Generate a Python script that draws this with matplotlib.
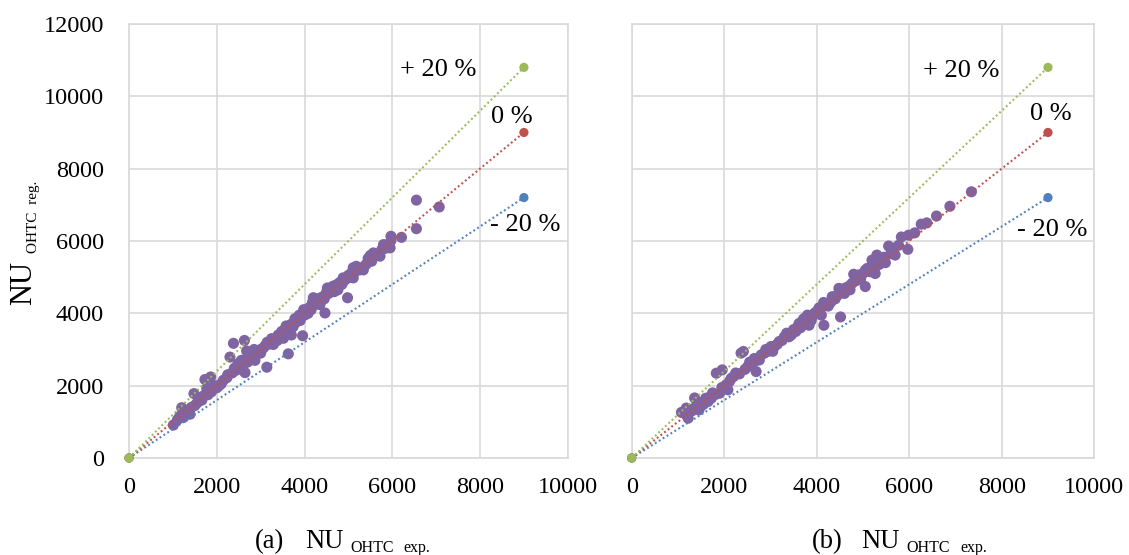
import matplotlib
matplotlib.use("Agg")
import matplotlib.pyplot as plt

plt.rcParams["font.family"] = ["Liberation Serif", "DejaVu Serif"]

# measured vs. regressed NU, panel (a)
left_x = [1010, 1100, 1150, 1200, 1240, 1280, 1300, 1350, 1390, 1420, 1480, 1500, 1550, 1600,
          1620, 1660, 1700, 1730, 1770, 1800, 1830, 1860, 1880, 1900, 1950, 2000, 2050, 2100,
          2230, 2300, 2380, 2400, 2350, 2450, 2500, 2550, 2605, 2630, 2643, 2680, 2700, 2750,
          2795, 2820, 2870, 2900, 2950, 3000, 3060, 3100, 3140, 3200,
          3290, 3350, 3400, 3450, 3520, 3550, 3600, 3630, 3650, 3700, 3700, 3740, 3800, 3850,
          3900, 3935, 3956, 4000, 4050, 4100, 4150, 4200,
          4250, 4300, 4350, 4400, 4450, 4466, 4500, 4550, 4600, 4620, 4680, 4730, 4730, 4800,
          4850, 4880, 4950, 4980, 5000, 5050, 5110, 5110, 5150, 5200, 5250, 5300, 5340, 5400, 5450,
          5530, 5570, 5650, 5720, 5760, 5850, 5950, 5970, 5970, 6210, 6550, 6550, 7070,
          2150, 2250, 2480, 2560, 2720, 2850, 3000, 3150, 3250, 3380, 3480, 3580, 3680, 3780,
          3880, 3980, 4080, 4180, 4280, 4380, 4520, 4650, 4760, 4900, 5060, 5180, 5500, 5800]
left_y = [910, 1050, 1150, 1390, 1120, 1250, 1300, 1280, 1210, 1400, 1780, 1450, 1520, 1580,
          1670, 1600, 1720, 2170, 1920, 1750, 1850, 2240, 1830, 1950, 2000, 1940, 2000, 2050,
          2220, 2790, 3170, 2480, 2350, 2430, 2550, 2500, 2590, 3250, 2360, 2960, 2650, 2750,
          2910, 2800, 2700, 2950, 2900, 3000, 3040, 3100, 2510, 3150,
          3140, 3300, 3400, 3350, 3310, 3550, 3500, 2880, 3650, 3400, 3700, 3630, 3750, 3850,
          3800, 3950, 3380, 3950, 4060, 4150, 4100, 4430,
          4250, 4300, 4240, 4450, 4400, 4010, 4580, 4550, 4650, 4620, 4600, 4700, 4790, 4850,
          4800, 4980, 4950, 4430, 5050, 5000, 4980, 5260, 5150, 5250, 5200, 5260, 5200, 5350, 5520,
          5440, 5670, 5600, 5580, 5760, 5800, 5810, 6010, 6130, 6100, 6340, 7130, 6940,
          2150, 2300, 2600, 2700, 2850, 3000, 2900, 3200, 3300, 3250, 3500, 3650, 3600, 3850,
          3950, 4100, 4000, 4300, 4400, 4350, 4700, 4750, 4650, 4900, 5100, 5300, 5600, 5900]

# panel (b)
right_x = [1075, 1180, 1220, 1300, 1360, 1400, 1455, 1500, 1550, 1600, 1650, 1700, 1750, 1800,
           1830, 1900, 1957, 1950, 2040, 2080, 2115, 2200, 2330, 2365, 2415, 2450, 2510, 2600,
           2690, 2700, 2760, 2800, 2870, 2950, 3010, 3050, 3100, 3190, 3250, 3300, 3400, 3475,
           3500, 3550, 3620, 3650, 3700, 3750, 3800, 3835, 3900, 3950, 4000, 4085, 4100, 4155,
           4200, 4250, 4335, 4335, 4400, 4480, 4515, 4550, 4600, 4650, 4700, 4765, 4800, 4850,
           4910, 4950, 5050, 5050, 5090, 5150, 5195, 5265, 5300, 5350, 5400, 5485, 5555, 5600,
           5695, 5770, 5830, 5970, 5985, 6120, 6260, 6380, 6590, 6880, 7345,
           1250, 1420, 1720, 2150, 2250, 2550, 2650, 2900, 3150, 3350, 3450, 3600, 3720, 3880,
           4050, 4150, 4300, 4450, 4620, 4720, 4880, 5000, 5200, 5450, 5650]
right_y = [1260, 1380, 1100, 1300, 1660, 1450, 1330, 1500, 1480, 1650, 1560, 1700, 1800, 1750,
           2345, 1790, 2436, 1950, 2020, 1885, 2115, 2250, 2325, 2900, 2945, 2450, 2530, 2600,
           2390, 2700, 2710, 2850, 2900, 2950, 3080, 2950, 3100, 3220, 3250, 3350, 3350, 3450,
           3550, 3500, 3720, 3600, 3800, 3700, 3950, 3670, 3900, 4000, 4050, 4130, 3950, 3670,
           4250, 4200, 4370, 4460, 4400, 4690, 3900, 4640, 4550, 4700, 4750, 4830, 5080, 4900,
           5060, 4950, 5190, 4740, 5240, 5150, 5470, 5100, 5610, 5350, 5450, 5400, 5860, 5650,
           5610, 5880, 6110, 5770, 6160, 6225, 6465, 6500, 6690, 6960, 7360,
           1350, 1550, 1650, 2200, 2350, 2650, 2750, 3000, 3150, 3450, 3400, 3650, 3850, 3800,
           4150, 4300, 4300, 4500, 4700, 4650, 5000, 5100, 5300, 5550, 5800]

# reference lines
ref_x = [0, 9000]
minus20_y = [0, 7200]
zero_y = [0, 9000]
plus20_y = [0, 10800]

purple = "#8064A2"
green = "#9BBB59"
red = "#C0504D"
blue = "#4F81BD"
grid_c = "#D9D9D9"

W, H = 1129, 555
fig = plt.figure(figsize=(W / 100, H / 100), dpi=100)
ax_a = fig.add_axes([0.1143, 0.1748, 0.3886, 0.7820])
ax_b = fig.add_axes([0.5595, 0.1748, 0.4097, 0.7820])

panels = [
    (ax_a, left_x, left_y, [(7050, 10730, "+ 20 %"), (8720, 9430, "0 %"), (9040, 6430, "- 20 %")]),
    (ax_b, right_x, right_y, [(7130, 10700, "+ 20 %"), (9060, 9500, "0 %"), (9100, 6300, "- 20 %")]),
]

for ax, xs, ys, labels in panels:
    ax.scatter(xs, ys, s=64, color=purple, edgecolors="none", zorder=3)
    for yy, col in [(minus20_y, blue), (zero_y, red), (plus20_y, green)]:
        ax.plot(ref_x, yy, color=col, lw=1.5, linestyle=(0, (0.9, 1.3)), zorder=4)
        ax.scatter(ref_x, yy, s=44, color=col, edgecolors="none", zorder=5, clip_on=False)
    for tx, ty, txt in labels:
        ax.text(tx, ty, txt, fontsize=19, ha="center", va="center", zorder=6)

    ax.set_xlim(0, 10000)
    ax.set_ylim(0, 12000)
    ax.set_xticks(range(0, 10001, 2000))
    ax.set_yticks(range(0, 12001, 2000))
    ax.grid(True, color=grid_c, lw=1.2, zorder=0)
    ax.set_axisbelow(True)
    for sp in ax.spines.values():
        sp.set_color(grid_c)
        sp.set_linewidth(1.2)
    ax.tick_params(length=0, labelsize=17.5)
    ax.tick_params(axis="x", pad=14)
    ax.tick_params(axis="y", pad=18)

ax_b.tick_params(axis="y", labelleft=False)


def put(px, py, txt, size, rot=0):
    fig.text(px / W, 1 - py / H, txt, fontsize=size, rotation=rot,
             rotation_mode="anchor", ha="left", va="baseline")


# y label: NU with lowered subscript
put(31.5, 305, "NU", 22, 90)
put(36.5, 253, "OHTC  reg.", 11, 90)

# captions
for x0, tag in [(255, "(a)"), (811.7, "(b)")]:
    put(x0, 547.7, tag, 19.2)
    put(x0 + 50, 547.7, "NU", 19.2)
    put(x0 + 95, 551.7, "OHTC", 11.5)
    put(x0 + 148.3, 551.7, "exp.", 11.5)

fig.savefig("out.png", dpi=100)
